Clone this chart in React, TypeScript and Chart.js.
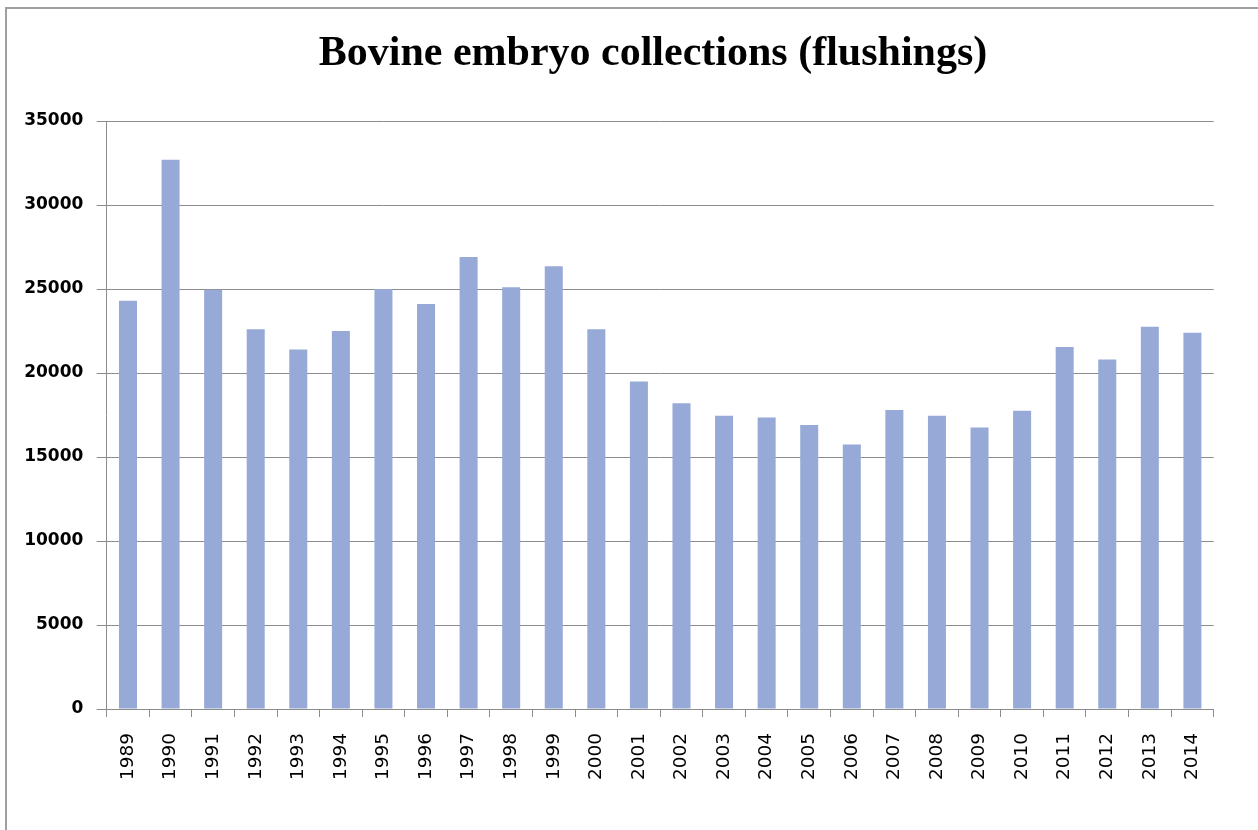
import React, { useEffect, useRef } from "react";
import { Chart, registerables } from "chart.js";

Chart.register(...registerables);

const chartTitle = "Bovine embryo collections (flushings)";
const years = [
  "1989", "1990", "1991", "1992", "1993", "1994", "1995", "1996", "1997",
  "1998", "1999", "2000", "2001", "2002", "2003", "2004", "2005", "2006",
  "2007", "2008", "2009", "2010", "2011", "2012", "2013", "2014",
];
const flushings = [
  24300, 32700, 24950, 22600, 21400, 22500, 25000, 24100, 26900,
  25100, 26350, 22600, 19500, 18200, 17450, 17350, 16900, 15750,
  17800, 17450, 16750, 17750, 21550, 20800, 22750, 22400,
];
const yMin = 0;
const yMax = 35000;
const yStep = 5000;

const W = 1258;
const H = 830;

const titlePlugin = {
  id: "centeredTitle",
  afterDraw(chart: any) {
    const ctx = chart.ctx;
    ctx.save();
    ctx.fillStyle = "#000000";
    ctx.font = "bold 42px 'Liberation Serif', 'Times New Roman', serif";
    ctx.textAlign = "center";
    ctx.textBaseline = "alphabetic";
    ctx.fillText(chartTitle, 653, 65);
    ctx.restore();
  },
};

export default function App() {
  const ref = useRef<HTMLCanvasElement | null>(null);

  useEffect(() => {
    if (!ref.current) return;
    const chart = new Chart(ref.current, {
      type: "bar",
      data: {
        labels: years,
        datasets: [
          {
            label: "Flushings",
            data: flushings,
            backgroundColor: "#96a9d7",
            borderWidth: 0,
            categoryPercentage: 1,
            barPercentage: 0.423,
          },
        ],
      },
      options: {
        responsive: false,
        animation: false,
        devicePixelRatio: 1,
        layout: { padding: { left: 0, right: 44.3, top: 121, bottom: 0 } },
        plugins: {
          legend: { display: false },
          tooltip: { enabled: false },
          title: { display: false },
        },
        scales: {
          x: {
            offset: true,
            afterFit: (s: any) => {
              s.height = 121;
            },
            grid: {
              offset: true,
              drawOnChartArea: false,
              drawTicks: true,
              tickLength: 8,
              color: "#8c8c8c",
            },
            border: { display: true, color: "#8c8c8c", width: 1 },
            ticks: {
              autoSkip: false,
              maxRotation: 90,
              minRotation: 90,
              padding: 16,
              color: "#000000",
              font: { family: "'DejaVu Sans', sans-serif", size: 18.5 },
            },
          },
          y: {
            min: yMin,
            max: yMax,
            afterFit: (s: any) => {
              s.width = 106.7;
            },
            grid: {
              drawOnChartArea: true,
              drawTicks: true,
              tickLength: 10,
              color: "#8c8c8c",
            },
            border: { display: true, color: "#8c8c8c", width: 1 },
            ticks: {
              stepSize: yStep,
              padding: 13.4,
              color: "#000000",
              font: { family: "'DejaVu Sans', sans-serif", size: 17, weight: "bold" },
              callback: (v: any) => String(v),
            },
          },
        },
      },
      plugins: [titlePlugin],
    });
    return () => chart.destroy();
  }, []);

  return (
    <div
      style={{
        position: "fixed",
        left: 0,
        top: 0,
        width: W,
        height: H,
        overflow: "hidden",
        background: "#ffffff",
      }}
    >
      <div
        style={{
          position: "absolute",
          left: 5,
          top: 7,
          width: 1400,
          height: 1000,
          borderLeft: "2px solid #a0a0a0",
          borderTop: "2px solid #a0a0a0",
        }}
      />
      <canvas
        ref={ref}
        width={W}
        height={H}
        style={{ position: "absolute", left: 0, top: 0, width: W, height: H }}
      />
    </div>
  );
}
